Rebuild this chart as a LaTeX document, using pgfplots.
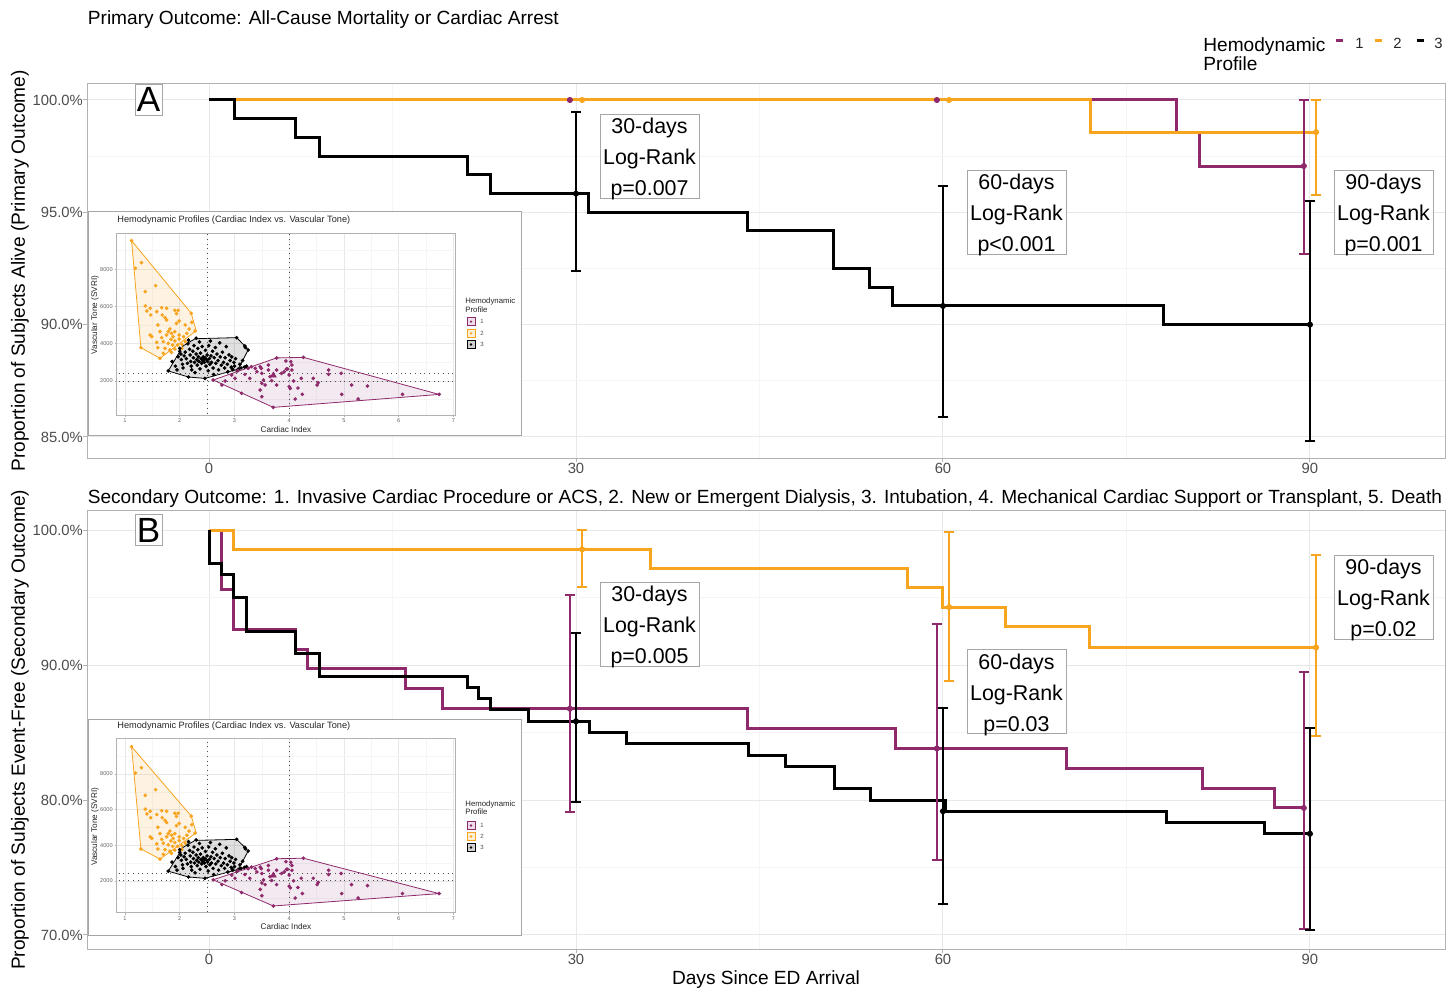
\documentclass[border=0pt]{standalone}
\usepackage{pgfplots}
\pgfplotsset{compat=1.18}
\usepackage{pgfplotstable}
\usepackage{fontspec}
\setmainfont{Liberation Sans}
\definecolor{kmpurple}{RGB}{142,42,108}
\definecolor{kmorange}{RGB}{247,164,30}

\pgfplotstableread{
x y
1.12 9540
1.19 8054
1.30 8358
1.37 6800
1.56 7122
1.37 6030
1.46 5905
1.40 5761
1.47 5546
1.67 5940
1.76 5905
1.58 5725
1.91 5797
1.97 5797
1.94 5618
1.68 5546
1.76 5277
1.94 5098
1.99 5224
1.73 5403
2.21 5636
1.60 5009
2.10 5009
2.22 5152
2.28 4687
2.17 4794
2.13 4561
1.46 4472
1.49 4382
1.64 4651
1.79 4651
1.82 4794
1.85 4561
1.76 4472
1.88 4382
1.91 4651
1.99 4472
2.07 4382
1.67 4328
1.84 4239
1.91 4149
1.99 4257
2.10 4114
1.58 4078
1.70 4114
1.79 4024
1.87 3934
1.96 3934
2.04 3970
1.60 3791
1.73 3755
1.82 3666
1.91 3720
1.70 3487
1.85 3540
1.29 3791
1.64 3218
2.04 3755
}\orangepts

\pgfplotstableread{
x y
1.12 9540
2.21 5640
2.30 4700
1.64 3220
1.29 3790
1.12 9540
}\orangehull

\pgfplotstableread{
x y
1.79 2540
1.86 3050
1.92 2800
1.95 2600
1.97 3300
2.00 3600
2.00 3750
2.02 3450
2.03 3150
2.05 2900
2.06 2700
2.08 3350
2.10 3550
2.12 3200
2.14 2950
2.15 4000
2.16 2215
2.16 4200
2.18 3700
2.19 3400
2.20 3050
2.21 2800
2.22 2600
2.24 3600
2.25 3250
2.26 3900
2.27 3000
2.28 2450
2.30 4300
2.30 3450
2.31 3150
2.32 2850
2.33 3750
2.34 3300
2.35 3050
2.36 4100
2.37 2650
2.38 3500
2.39 3200
2.40 2950
2.41 3850
2.42 3100
2.43 3300
2.44 3150
2.45 3000
2.46 2140
2.46 3250
2.47 3650
2.48 2800
2.49 3150
2.50 3400
2.51 3050
2.52 2550
2.53 3900
2.54 3200
2.55 2900
2.56 4150
2.57 3350
2.58 3000
2.60 3600
2.61 2700
2.62 2350
2.63 3250
2.65 3800
2.66 2950
2.68 3450
2.70 3100
2.71 2600
2.73 4050
2.74 3300
2.76 2850
2.78 3550
2.80 3000
2.82 2700
2.83 3250
2.85 3850
2.87 2900
2.88 2500
2.90 3400
2.92 3100
2.94 2750
2.95 3300
2.97 2600
2.99 3000
3.00 2800
3.02 3200
3.04 4330
3.05 2550
3.07 2640
3.10 2900
3.12 2700
3.15 3100
3.18 2750
3.20 3800
3.22 2800
3.25 3670
3.19 3880
2.96 2650
}\blackpts

\pgfplotstableread{
x y
1.79 2540
2.06 3880
2.28 4270
3.04 4330
3.19 3880
3.25 3670
3.07 2640
2.46 2140
2.16 2215
1.79 2540
}\blackhull

\pgfplotstableread{
x y
2.61 2054
2.77 1785
2.83 2000
2.95 2322
3.01 2143
3.06 2555
3.13 1337
3.19 2357
3.25 2681
3.28 2143
3.31 2770
3.38 2681
3.41 2501
3.47 2770
3.49 2681
3.50 2412
3.53 2054
3.50 1875
3.47 1517
3.50 1159
3.56 1785
3.62 2859
3.62 2591
3.65 2233
3.68 2018
3.77 3236
3.77 2591
3.77 1785
3.86 2412
3.91 2501
3.94 3075
3.95 2645
3.97 2645
4.00 2322
4.00 1696
4.02 1606
4.03 3039
4.05 2859
4.05 2591
4.08 2000
4.11 1033
4.16 1624
4.22 2143
4.24 1284
4.26 3272
4.44 2143
4.51 1785
4.53 1910
4.72 2591
4.72 2357
4.95 2412
4.96 1284
5.14 1785
5.26 1033
5.43 1731
6.07 1284
6.74 1284
3.71 585
}\purplepts

\pgfplotstableread{
x y
2.61 2054
3.77 3240
4.26 3270
6.74 1280
3.71 585
2.61 2054
}\purplehull

\pgfplotsset{
  km/.style={scale only axis, anchor=north west, width=678.85pt,
    xmin=-9.95, xmax=101.04,
    xtick={0,30,60,90}, minor xtick={15,45,75},
    grid=both, major grid style={black!9, line width=0.5pt},
    minor grid style={black!4, line width=0.35pt},
    axis line style={black!30, line width=0.5pt},
    tick pos=left, tick align=outside, major tick length=2pt, minor tick length=0pt,
    tick style={black!30, line width=0.5pt},
    ticklabel style={font=\fontsize{7.4}{8.5}\selectfont, text=black!70},
    xticklabel style={yshift=3pt},
    yticklabel style={xshift=3.3pt},
    /pgf/number format/assume math mode=true,
    xticklabel={\pgfmathprintnumber[assume math mode=true]{\tick}},
    yticklabel={\pgfmathprintnumber[assume math mode=true,fixed,fixed zerofill,precision=1]{\tick}\%},
  },
  step/.style={const plot, line width=1.5pt},
  eb/.style={only marks, mark=*, mark size=1.3pt,
    error bars/y dir=both, error bars/y explicit,
    error bars/error bar style={line width=1pt, solid},
    error bars/error mark options={rotate=90, mark size=2.6pt, line width=1pt}},
  inset/.style={scale only axis, anchor=north west, width=169.15pt,
    xmin=0.848, xmax=7.03,
    xtick={1,...,7}, ytick={2000,4000,6000,8000},
    minor xtick={1.5,2.5,3.5,4.5,5.5,6.5}, minor ytick={1000,3000,5000,7000,9000},
    scaled y ticks=false, scaled x ticks=false,
    grid=both, major grid style={black!9, line width=0.3pt},
    minor grid style={black!4, line width=0.2pt},
    axis line style={black!30, line width=0.5pt},
    tick pos=left, tick align=outside, major tick length=1pt, minor tick length=0pt,
    tick style={black!30, line width=0.3pt},
    ticklabel style={font=\fontsize{2.8}{3.2}\selectfont, text=black!60, inner sep=0.8pt},
    /pgf/number format/assume math mode=true, /pgf/number format/1000 sep={},
  },
}

\newcommand{\insetcontent}{%
  \addplot[kmorange, line width=0.4pt, fill=kmorange, fill opacity=0.12] table {\orangehull};
  \addplot[black, line width=0.4pt, fill=black, fill opacity=0.12] table {\blackhull};
  \addplot[kmpurple, line width=0.4pt, fill=kmpurple, fill opacity=0.1] table {\purplehull};
  \addplot[black!70, dotted, line width=0.35pt] coordinates {(2.5,0)(2.5,10100)};
  \addplot[black!70, dotted, line width=0.35pt] coordinates {(4,0)(4,10100)};
  \addplot[black!70, dotted, line width=0.35pt] coordinates {(0.8,2000)(7.1,2000)};
  \addplot[black!70, dotted, line width=0.35pt] coordinates {(0.8,2400)(7.1,2400)};
  \addplot[only marks, mark=*, mark size=0.7pt, kmorange] table {\orangepts};
  \addplot[only marks, mark=*, mark size=0.7pt, black] table {\blackpts};
  \addplot[only marks, mark=*, mark size=0.7pt, kmpurple] table {\purplepts};
  \addplot[only marks, mark=triangle*, mark size=1.6pt, kmpurple] coordinates {(3.71,2300)};
}

\begin{document}
\begin{tikzpicture}
\path[use as bounding box] (0,0) rectangle (727.5pt,-493.5pt);

% ---------------- Panel A ----------------
\begin{axis}[km, at={(43.65pt,-41.65pt)}, height=187.5pt,
  ymin=84.048, ymax=100.743, ytick={85,90,95,100}, minor ytick={87.5,92.5,97.5}]
\addplot[step, kmpurple] coordinates {(0,100)(79.05,98.57)(81.0,97.06)(89.5,97.06)};
\addplot[step, kmorange] coordinates {(0,100)(72.07,98.57)(90.5,98.57)};
\addplot[step, black] coordinates {(0,100)(2.07,99.17)(7.04,98.33)(9.04,97.5)(21.1,96.67)(23.05,95.83)(31.0,95.0)(44.0,94.17)(51.07,92.5)(54.0,91.67)(55.9,90.83)(78.0,90.0)(90,90.0)};
\addplot[only marks, mark=*, mark size=1.3pt, kmpurple] coordinates {(29.5,100)(59.5,100)};
\addplot[only marks, mark=*, mark size=1.3pt, kmorange] coordinates {(30.5,100)(60.5,100)};
\addplot[kmpurple, eb] coordinates {(89.5,97.06) += (0,2.94) -= (0,3.9)};
\addplot[kmorange, eb] coordinates {(90.5,98.57) += (0,1.43) -= (0,2.79)};
\addplot[black, eb] coordinates {(30,95.83) += (0,3.62) -= (0,3.46) (60,90.83) += (0,5.35) -= (0,4.96) (90,90.0) += (0,5.52) -= (0,5.2)};
\end{axis}

% ---------------- Panel B ----------------
\begin{axis}[km, at={(43.65pt,-255.35pt)}, height=219.15pt,
  ymin=68.96, ymax=101.43, ytick={70,80,90,100}, minor ytick={75,85,95}]
\addplot[step, kmpurple] coordinates {(0,100)(1.0,95.59)(2.0,92.65)(7.1,91.18)(8.07,89.71)(16.1,88.24)(19.07,86.76)(44.0,85.29)(56.1,83.82)(70.1,82.35)(81.2,80.88)(87.1,79.41)(89.6,79.41)};
\addplot[step, kmorange] coordinates {(0,100)(2.04,98.57)(36.1,97.14)(57.06,95.71)(60.0,94.29)(65.07,92.86)(72.0,91.3)(90.5,91.3)};
\addplot[step, black] coordinates {(0,100)(0,97.5)(1.0,96.67)(2.0,95.0)(3.08,92.5)(7.1,90.83)(9.07,89.17)(21.1,88.33)(22.07,87.5)(23.05,86.67)(26.1,85.83)(31.1,85.0)(34.1,84.17)(44.1,83.33)(47.1,82.5)(51.1,80.83)(54.1,80.0)(60.2,79.17)(78.3,78.33)(86.3,77.5)(90,77.5)};
\addplot[kmpurple, eb] coordinates {(29.5,86.76) += (0,8.43) -= (0,7.65) (59.5,83.82) += (0,9.22) -= (0,8.26) (89.5,79.41) += (0,10.1) -= (0,9.0)};
\addplot[kmorange, eb] coordinates {(30.5,98.57) += (0,1.43) -= (0,2.79) (60.5,94.29) += (0,5.56) -= (0,5.49) (90.5,91.3) += (0,6.86) -= (0,6.56)};
\addplot[black, eb] coordinates {(30,85.83) += (0,6.54) -= (0,5.98) (60,79.17) += (0,7.63) -= (0,6.87) (90,77.5) += (0,7.8) -= (0,7.1)};
\end{axis}

% ---------------- inset frames ----------------
\begin{scope}[x=0.5pt,y=-0.5pt]
\draw[black!35, fill=white, line width=0.4pt] (88,211.7) rectangle (521.7,435);
\draw[black!35, fill=white, line width=0.4pt] (88,719.3) rectangle (521.7,935);
\end{scope}

\begin{axis}[inset, at={(58.35pt,-116.65pt)}, height=90.85pt, ymin=174, ymax=9933]
\insetcontent
\end{axis}
\begin{axis}[inset, at={(58.35pt,-369.15pt)}, height=87.2pt, ymin=206, ymax=10008]
\insetcontent
\end{axis}

\begin{scope}[x=0.5pt,y=-0.5pt]
% inset texts
\foreach \tt/\yl/\xl/\lt/\ka/\kb/\kc in {220/315/429.3/301.7/321.6/333.3/344.5, 726/826.7/926.7/804.3/825.5/836.5/847.5}{
  \node[anchor=west, inner sep=0, font=\fontsize{4.6}{5}\selectfont, text=black!85] at (117,\tt) {Hemodynamic Profiles (Cardiac Index vs. Vascular Tone)};
  \node[rotate=90, inner sep=0, font=\fontsize{4.1}{5}\selectfont, text=black!85] at (95,\yl) {Vascular Tone (SVRI)};
  \node[inner sep=0, font=\fontsize{4.1}{5}\selectfont, text=black!85] at (286,\xl) {Cardiac Index};
  \node[anchor=north west, inner sep=0, align=left, font=\fontsize{3.9}{4.2}\selectfont, text=black!85] at (465,\lt-4) {Hemodynamic\\Profile};
  \draw[kmpurple, fill=kmpurple!15, line width=0.5pt] (467,\ka-4) rectangle (475,\ka+4);
  \fill[kmpurple] (471,\ka) circle (1.3);
  \draw[kmorange, fill=kmorange!18, line width=0.5pt] (467,\kb-4) rectangle (475,\kb+4);
  \fill[kmorange] (471,\kb) circle (1.3);
  \draw[black, fill=black!18, line width=0.5pt] (467,\kc-4) rectangle (475,\kc+4);
  \fill[black] (471,\kc) circle (1.3);
  \node[anchor=west, inner sep=0, font=\fontsize{3}{3.5}\selectfont, text=black!70] at (480,\ka) {1};
  \node[anchor=west, inner sep=0, font=\fontsize{3}{3.5}\selectfont, text=black!70] at (480,\kb) {2};
  \node[anchor=west, inner sep=0, font=\fontsize{3}{3.5}\selectfont, text=black!70] at (480,\kc) {3};
}

% titles
\node[anchor=base west, inner sep=0, font=\fontsize{9.55}{11}\selectfont] at (87.5,24) {Primary Outcome: All-Cause Mortality or Cardiac Arrest};
\node[anchor=base west, inner sep=0, font=\fontsize{9.53}{11}\selectfont] at (87.5,503) {Secondary Outcome: 1. Invasive Cardiac Procedure or ACS, 2. New or Emergent Dialysis, 3. Intubation, 4. Mechanical Cardiac Support or Transplant, 5. Death};
\node[anchor=base, inner sep=0, font=\fontsize{9.55}{11}\selectfont] at (766,984) {Days Since ED Arrival};
\node[rotate=90, inner sep=0, font=\fontsize{9.55}{11}\selectfont] at (20,270.8) {Proportion of Subjects Alive (Primary Outcome)};
\node[rotate=90, inner sep=0, font=\fontsize{9.55}{11}\selectfont] at (20,729.8) {Proportion of Subjects Event-Free (Secondary Outcome)};

% legend
\node[anchor=base west, inner sep=0, font=\fontsize{9.55}{11}\selectfont] at (1203,51) {Hemodynamic};
\node[anchor=base west, inner sep=0, font=\fontsize{9.55}{11}\selectfont] at (1203,70) {Profile};
\draw[kmpurple, line width=1.4pt] (1336,40.5) -- (1343,40.5);
\draw[kmorange, line width=1.4pt] (1374.5,40.5) -- (1381.5,40.5);
\draw[black, line width=1.4pt] (1417,40.5) -- (1424,40.5);
\node[anchor=base west, inner sep=0, font=\fontsize{7.4}{8}\selectfont, text=black!85] at (1355,48) {1};
\node[anchor=base west, inner sep=0, font=\fontsize{7.4}{8}\selectfont, text=black!85] at (1393,48) {2};
\node[anchor=base west, inner sep=0, font=\fontsize{7.4}{8}\selectfont, text=black!85] at (1434,48) {3};

% panel letters
\node[draw=black!35, fill=white, line width=0.4pt, inner sep=0, minimum width=13.5pt, minimum height=15.3pt, font=\fontsize{17.5}{18}\selectfont] at (148.5,99.7) {A};
\node[draw=black!35, fill=white, line width=0.4pt, inner sep=0, minimum width=13.5pt, minimum height=15.3pt, font=\fontsize{17.5}{18}\selectfont] at (148.5,530) {B};

% log-rank boxes
\tikzset{lrbox/.style={draw=black!35, fill=white, line width=0.4pt, inner sep=0, minimum width=49.5pt, minimum height=42pt},
  lr/.style={inner sep=0, align=center, font=\fontsize{10.7}{15.5}\selectfont}}
\foreach \x/\y/\a/\p in {649.5/156/30/p=0.007, 1016.5/212/60/p<0.001, 1383.5/212/90/p=0.001, 649.5/624/30/p=0.005, 1016.5/691.5/60/p=0.03, 1383.5/597/90/p=0.02}{
  \node[lrbox] at (\x,\y) {};
  \node[lr] at (\x,\y+3) {\a-days\\Log-Rank\\\p};
}
\end{scope}
\end{tikzpicture}
\end{document}
